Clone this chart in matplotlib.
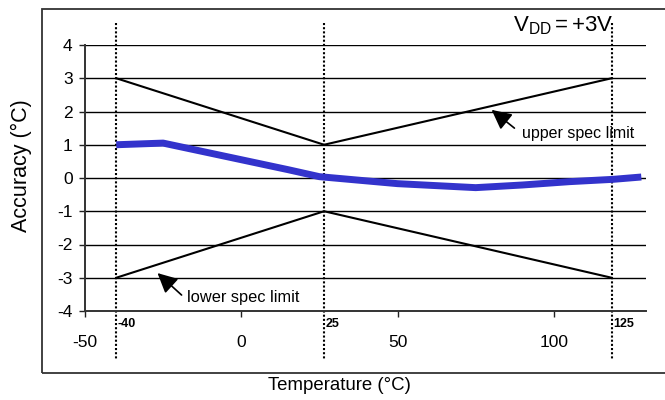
import matplotlib
matplotlib.use("Agg")
import matplotlib.pyplot as plt
from matplotlib.patches import Rectangle

plt.rcParams['font.family'] = ['Liberation Sans', 'DejaVu Sans']
plt.rcParams['mathtext.fontset'] = 'custom'
plt.rcParams['mathtext.rm'] = 'Liberation Sans'
plt.rcParams['mathtext.it'] = 'Liberation Sans'
plt.rcParams['axes.unicode_minus'] = False

# Data
temp = [-40, -25, 0, 15, 25, 50, 75, 90, 105, 119, 128]
accuracy = [1.0, 1.05, 0.55, 0.25, 0.04, -0.17, -0.29, -0.21, -0.11, -0.04, 0.03]
spec_temp = [-40, 26.5, 118.5]
upper_spec = [3, 1, 3]
lower_spec = [-3, -1, -3]
marker_labels = ['-40', '25', '125']
xticks = [-50, 0, 50, 100]
yticks = [-4, -3, -2, -1, 0, 1, 2, 3, 4]

W, H = 665, 400
fig = plt.figure(figsize=(W / 100, H / 100), dpi=100)
ax = fig.add_axes([85 / W, 1 - 311 / H, (646 - 85) / W, (311 - 45) / H])
ax.set_xlim(-50, 129.5)
ax.set_ylim(-4, 4)

# Outer chart border
fig.patches.append(Rectangle((42 / W, 1 - 373 / H), 1.2, (373 - 9) / H,
                             transform=fig.transFigure, fill=False,
                             edgecolor='#333333', lw=1.3, zorder=0))

# gridlines
for y in yticks[1:]:
    ax.axhline(y, color='black', lw=1.0, zorder=1)

# spines
for s in ['top', 'right']:
    ax.spines[s].set_visible(False)
ax.spines['left'].set_color('#333333')
ax.spines['bottom'].set_color('#333333')
ax.spines['left'].set_linewidth(1.4)
ax.spines['bottom'].set_linewidth(1.4)

ax.set_xticks(xticks)
ax.set_yticks(yticks)
ax.tick_params(axis='x', direction='out', length=4, width=1, pad=13,
               labelsize=12.5, colors='#222222')
ax.tick_params(axis='y', direction='out', length=4, width=1, pad=5,
               labelsize=12.5, colors='#222222')
for lab in ax.get_xticklabels() + ax.get_yticklabels():
    lab.set_color('black')

# dotted vertical lines
for t, lab in zip(spec_temp, marker_labels):
    ax.plot([t, t], [4.66, -5.47], color='black', lw=1.5,
            linestyle=(0, (1, 1)), clip_on=False, zorder=2)
    ax.text(t + 0.4, -4.4, lab, fontsize=9, fontweight='bold',
            ha='left', va='center', clip_on=False)

# spec limits
ax.plot(spec_temp, upper_spec, color='black', lw=1.5, zorder=3)
ax.plot(spec_temp, lower_spec, color='black', lw=1.5, zorder=3)

# accuracy curve
ax.plot(temp, accuracy, color='#3333cc', lw=5, solid_capstyle='butt',
        solid_joinstyle='round', zorder=4)

# annotations
ax.annotate('', xy=(80.1, 2.05), xytext=(87.4, 1.50),
            arrowprops=dict(arrowstyle='-|>,head_length=0.6,head_width=0.3',
                            color='black', lw=1.2,
                            mutation_scale=20, shrinkA=0, shrinkB=0))
ax.text(89.7, 1.20, 'upper spec limit', fontsize=11.5, ha='left', va='baseline')
ax.annotate('', xy=(-26.8, -2.86), xytext=(-19.1, -3.52),
            arrowprops=dict(arrowstyle='-|>,head_length=0.6,head_width=0.3',
                            color='black', lw=1.2,
                            mutation_scale=20, shrinkA=0, shrinkB=0))
ax.text(-17.5, -3.73, 'lower spec limit', fontsize=11.8, ha='left', va='baseline')

fig.text(513 / W, 1 - 31.7 / H, r'$\mathregular{V_{DD}{=}{+}3V}$', fontsize=16,
         ha='left', va='baseline')

fig.text(21 / W, 1 - 166 / H, 'Accuracy (°C)', rotation=90, fontsize=15.5,
         ha='center', va='center')
fig.text(339.5 / W, 1 - 386 / H, 'Temperature (°C)', fontsize=13.4,
         ha='center', va='center')

fig.savefig('out.png', dpi=100)
